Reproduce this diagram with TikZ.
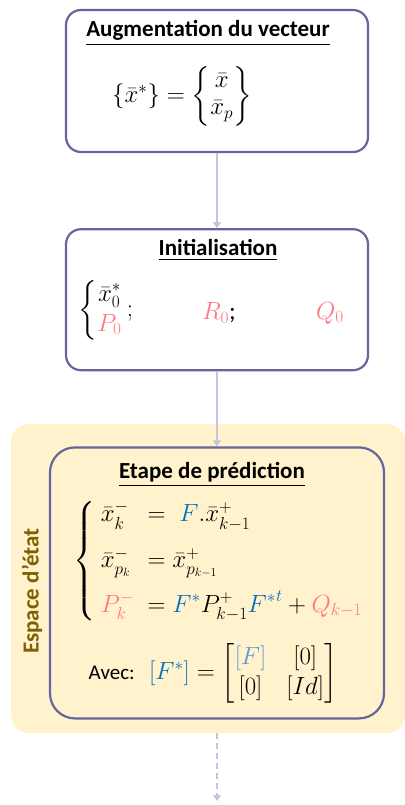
\documentclass[tikz,border=0pt]{standalone}
\usepackage{amsmath}
\usepackage[no-math]{fontspec}
\setmainfont{Carlito}
\usetikzlibrary{arrows.meta, positioning}
\definecolor{framepurple}{RGB}{102,102,158}
\definecolor{arrowlav}{RGB}{196,196,224}
\definecolor{paleyellow}{RGB}{255,242,204}
\definecolor{darkgold}{RGB}{127,96,0}
\definecolor{rosek}{RGB}{255,120,128}
\definecolor{bluef}{RGB}{0,112,192}
\definecolor{lightbluef}{RGB}{91,155,213}

\begin{document}
\begin{tikzpicture}[
        x=1pt, y=1pt,
        node distance=75pt,
        bloc/.style={rectangle, draw=framepurple, line width=2.2pt, fill=white, rounded corners=15pt, minimum width=302pt},
        fond/.style={rectangle, fill=paleyellow, rounded corners=18pt},
        titre/.style={font=\fontsize{23}{27}\selectfont\bfseries, inner sep=0pt},
        eq/.style={font=\fontsize{25}{30}\selectfont, inner sep=0pt},
        arrow/.style={-{Triangle[width=8pt,length=6pt]}, line width=1.6pt, draw=arrowlav}
    ]
        \useasboundingbox (0,0) rectangle (404,-805);

        \node[bloc, minimum height=142pt] (aug) at (217,-81) {};
        \node[bloc, minimum height=141pt, below=of aug] (init) {};
        \node[fond, minimum width=394pt, minimum height=309pt] (espace) at (208,-578.5) {};
        \node[bloc, rounded corners=25pt, fill=paleyellow, minimum width=334pt, minimum height=271pt, below=of init] (pred) {};
        \coordinate (suite) at (217,-801);

        % augmentation
        \node[eq, font=\fontsize{23}{27}\selectfont] (eqaug) at (182,-96) {$\{\bar{x}^*\} = \begin{Bmatrix}\bar{x}\\ \bar{x}_p\end{Bmatrix}$};
        \node[titre] (taug) at (208,-33) {\underline{Augmentation du vecteur}};

        % initialisation
        \node[titre] (tinit) at (218,-250) {\underline{Initialisation}};
        \node[eq] (x0) at (106,-310) {$\left\{\begin{matrix}{\bar{x}^*}_0\\ \color{rosek}P_0\end{matrix}\right.;$};
        \node[eq] (r0) at (219,-313) {$\color{rosek}R_0$;};
        \node[eq] (q0) at (330,-313) {$\color{rosek}Q_0$};

        % prediction
        \node[titre] (tpred) at (212,-475) {\underline{Etape de prédiction}};
        \node[eq] (sys) at (221,-561) {$\left\{\begin{array}{l@{\;\;}l}
            {\bar{x}^-}_k & = \;{\color{bluef}F}.{\bar{x}^+}_{k-1}\\[16pt]
            \bar{x}^-_{p_k} & = \bar{x}^+_{p_{k-1}}\\[14pt]
            {\color{rosek}P^-_k} & = {\color{bluef}F^*}P^+_{k-1}{\color{bluef}{F^*}^t} + {\color{rosek}Q_{k-1}}
          \end{array}\right.$};
        \node[eq] (avec) at (213,-673) {{\fontsize{21}{25}\selectfont Avec:}\; ${\color{bluef}[F^*]} = \begin{bmatrix}{\color{lightbluef}[F]} & \hspace{10pt}{[0]}\\ {[0]} & \hspace{10pt}{[Id]}\end{bmatrix}$};
        \node[titre, text=darkgold, rotate=90] (lespace) at (32,-591) {Espace d'état};

        \draw[arrow] (aug) -- (init);
        \draw[arrow] (init) -- (pred);
        \draw[arrow, dashed, dash pattern=on 6pt off 4pt] (espace.south -| pred.south) -- (suite);
    \end{tikzpicture}
\end{document}
